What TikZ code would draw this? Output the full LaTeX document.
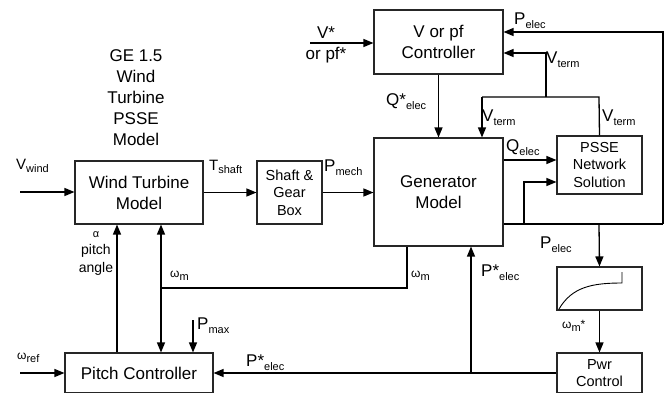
\documentclass[tikz,border=0pt]{standalone}
\usepackage{fontspec}
\setmainfont{Liberation Sans}
\usepackage{tikz}
\usetikzlibrary{arrows.meta,positioning}
\newcommand{\sig}[2]{#1\raisebox{-0.5ex}{\fontsize{11}{11}\selectfont #2}}

\begin{document}
\begin{tikzpicture}[
  x=1pt, y=-1pt,
  blk/.style={draw=black!85, line width=1.1pt, align=center, inner sep=0pt, font=\fontsize{17}{21}\selectfont},
  small/.style={blk, font=\fontsize{14.5}{17.5}\selectfont},
  lab/.style={align=center, inner sep=0pt, font=\fontsize{15}{17}\selectfont},
  big/.style={lab, font=\fontsize{17}{19}\selectfont},
  greek/.style={lab, font=\fontsize{12}{14}\selectfont},
  arr/.style={-{Triangle[length=10pt,width=8pt]}, line width=1.3pt},
  darr/.style={{Triangle[length=10pt,width=8pt]}-{Triangle[length=10pt,width=8pt]}, line width=1.3pt},
  ln/.style={line width=1.3pt}
]
\useasboundingbox (0,0) rectangle (670,394);
\clip (0,0) rectangle (670,392.6);
% blocks
\node[blk, minimum width=128pt, minimum height=63pt] (wtm) at (139,192.5) {Wind Turbine\\Model};
\node[small, minimum width=65pt, minimum height=63pt] (gear) at (289.5,192.5) {Shaft \&\\Gear\\Box};
\node[blk, minimum width=129pt, minimum height=64pt] (vpf) at (438.5,42) {V or pf\\Controller};
\node[blk, minimum width=129pt, minimum height=108pt] (gen) at (438.5,192) {Generator\\Model};
\node[small, minimum width=85pt, minimum height=58pt] (psse) at (599.5,165) {PSSE\\Network\\Solution};
\node[blk, minimum width=85pt, minimum height=43pt] (curve) at (599.5,288.5) {};
\node[small, minimum width=85pt, minimum height=40pt] (pwr) at (599.5,373) {Pwr\\Control};
\node[blk, minimum width=148pt, minimum height=40pt] (pitch) at (139,373) {Pitch Controller};
\draw[line width=0.9pt] (559,309) .. controls (572,287) and (592,283) .. (622,283) -- (622,272);

\node[lab, font=\fontsize{17}{21}\selectfont] (title) at (136,98) {GE 1.5\\Wind\\Turbine\\PSSE\\Model};

% free ends and corners
\coordinate (vw) at (20,192);
\coordinate (vs) at (310,43);
\coordinate (wr) at (20,373);
\coordinate (pe) at (663,224);
\coordinate (ptop) at (663,32);
\coordinate (pj1) at (524,224);
\coordinate (pj2) at (599,224);
\coordinate (vt) at (599,97);
\coordinate (vtl) at (482,97);
\coordinate (vtj) at (546,97);
\coordinate (pj3) at (471,373);
\coordinate (wj) at (161,288);
\coordinate (pm) at (193,320);

% connectors
\draw[arr] (vw) -- (wtm.west |- vw);
\draw[arr] (wtm.east) -- (gear.west);
\draw[arr] (gear.east) -- (gen.west |- gear.east);
\draw[arr] (vs) -- (vpf.west |- vs);
\draw[arr] (vpf.south) -- (gen.north);
\draw[ln] (gen.east |- pe) -- (pe);
\draw[arr] (pe) -- (ptop) -- ([yshift=10pt]vpf.east);
\draw[arr] (pj1) |- ([yshift=-17pt]psse.west);
\draw[arr] ([yshift=5pt]gen.east |- psse.west) -- ([yshift=5pt]psse.west);
\draw[arr] (pj2) -- (curve.north);
\draw[arr] (curve.south) -- (pwr.north);
\draw[ln] (psse.north) -- (vt) -- (vtl);
\draw[arr] (vtl) -- (vtl |- gen.north);
\draw[arr] (vtj) |- ([yshift=-11pt]vpf.east);
\draw[arr] (pwr.west) -- (pitch.east);
\draw[arr] (pj3) -- (pj3 |- gen.south);
\draw[arr] (wr) -- (pitch.west);
\draw[arr] ([xshift=-22pt]pitch.north) -- ([xshift=-22pt]wtm.south);
\draw[darr] ([xshift=22pt]wtm.south) -- ([xshift=22pt]pitch.north);
\draw[ln] (wj) -| ([xshift=-31.5pt]gen.south);
\draw[arr] (pm) -- (pm |- pitch.north);

% signal labels
\node[lab, anchor=base west] at (16,169) {\sig{V}{wind}};
\node[lab, anchor=base west] at (209,170) {\sig{T}{shaft}};
\node[big, anchor=base west] at (324,171) {\sig{P}{mech}};
\node[big] at (326,33) {V*};
\node[big] at (326,55) {or pf*};
\node[big, anchor=base west] at (386,105) {\sig{Q*}{elec}};
\node[big, anchor=base west] at (514,24) {\sig{P}{elec}};
\node[big, anchor=base west] at (546,63) {\sig{V}{term}};
\node[big, anchor=base west] at (482,121) {\sig{V}{term}};
\node[big, anchor=base west] at (602,121) {\sig{V}{term}};
\node[big, anchor=base west] at (506,151) {\sig{Q}{elec}};
\node[big, anchor=base west] at (540,248) {\sig{P}{elec}};
\node[big, anchor=base west] at (481,276) {\sig{P*}{elec}};
\node[big, anchor=base west] at (246,366) {\sig{P*}{elec}};
\node[big, anchor=base west] at (197,329) {\sig{P}{max}};
\node[greek, anchor=base west] at (562,328) {\sig{ω}{m}*};
\node[greek, anchor=base west] at (17,359) {\sig{ω}{ref}};
\node[greek, anchor=base west] at (170,277) {\sig{ω}{m}};
\node[greek, anchor=base west] at (411,277) {\sig{ω}{m}};
\node[lab, font=\fontsize{14}{17.5}\selectfont] at (96,253) {{\fontsize{11}{12}\selectfont α}\\pitch\\angle};
\end{tikzpicture}
\end{document}
